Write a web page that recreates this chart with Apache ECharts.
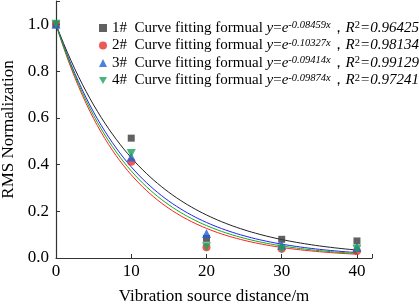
<!DOCTYPE html>
<html>
<head>
<meta charset="utf-8">
<script src="https://cdn.jsdelivr.net/npm/echarts@6/dist/echarts.min.js"></script>
<style>
  html, body { margin: 0; padding: 0; background: #fff; }
  #chart { width: 419px; height: 306px; }
</style>
</head>
<body>
<div id="chart"></div>
<script>
// distances (m)
var distances = [0, 10, 20, 30, 40];
var labels = ["1#", "2#", "3#", "4#"];
// measured RMS normalization per sensor
var rms1 = [1.0, 0.513, 0.084, 0.080, 0.073];
var rms2 = [1.0, 0.412, 0.046, 0.040, 0.030];
var rms3 = [1.0, 0.432, 0.105, 0.055, 0.045];
var rms4 = [1.0, 0.447, 0.048, 0.038, 0.037];
// fitting coefficients and R^2 from the legend
var coefs = [0.08459, 0.10327, 0.09414, 0.09874];
var r2 = ["0.96425", "0.98134", "0.99129", "0.97241"];

var colors = ["#3a3a3a", "#e8302c", "#1f5fd6", "#1aa35a"];
var lineColors = ["#222222", "#ff2020", "#2020ff", "#10b010"];
var symbols = ["rect", "circle", "triangle", "path://M0,0 L10,0 L5,9 Z"];
var sizes = [7, 8, 9, 9];

var font = "Liberation Serif";
var chart = echarts.init(document.getElementById("chart"));

function fitCurve(k) {
    var pts = [];
    for (var x = 0; x <= 40; x += 0.5) {
        pts.push([x, Math.exp(-k * x)]);
    }
    return pts;
}

var allRms = [rms1, rms2, rms3, rms4];
var series = [];
for (var i = 0; i < 4; i++) {
    series.push({
        name: "fit" + i,
        type: "line",
        data: fitCurve(coefs[i]),
        showSymbol: false,
        silent: true,
        z: 1,
        lineStyle: { color: lineColors[i], width: 1 }
    });
}
for (var j = 0; j < 4; j++) {
    series.push({
        name: labels[j],
        type: "scatter",
        symbol: symbols[j],
        symbolSize: sizes[j],
        z: 3,
        itemStyle: { color: colors[j] },
        data: distances.map(function(d, n) { return [d, allRms[j][n]]; })
    });
}

var option = {
    backgroundColor: "#fff",
    animation: false,
    grid: { left: 56, right: 47, top: 1, bottom: 48, outerBoundsMode: "none" },
    legend: {
        data: labels.map(function(l, i) { return { name: l, icon: symbols[i] }; }),
        orient: "vertical",
        left: 94,
        top: 15,
        itemWidth: 8,
        itemHeight: 8,
        itemGap: 2,
        formatter: function(name) {
            var i = labels.indexOf(name);
            return "{n|" + name + "  Curve fitting formual }{i|y}{n|=}{i|e}{s|-" + coefs[i].toFixed(5) + "x}{n|，}{i|R}{t|2}{i|=" + r2[i] + "}";
        },
        textStyle: {
            fontFamily: font,
            fontSize: 15,
            color: "#000",
            rich: {
                n: { fontFamily: font, fontSize: 15, color: "#000", lineHeight: 16 },
                i: { fontFamily: font, fontSize: 15, color: "#000", fontStyle: "italic", lineHeight: 16 },
                s: { fontFamily: font, fontSize: 10.5, color: "#000", fontStyle: "italic", verticalAlign: "top", padding: [0, 0, 5, 0] },
                t: { fontFamily: font, fontSize: 10.5, color: "#000", verticalAlign: "top", padding: [0, 0, 5, 0] }
            }
        }
    },
    xAxis: {
        type: "value",
        min: 0,
        max: 42,
        interval: 10,
        name: "Vibration source distance/m",
        nameLocation: "middle",
        nameGap: 30,
        nameTextStyle: { fontFamily: font, fontSize: 17, color: "#000" },
        splitLine: { show: false },
        axisLine: { lineStyle: { color: "#333", width: 1.2 } },
        axisTick: { inside: true, length: 4, lineStyle: { color: "#333" } },
        axisLabel: {
            fontFamily: font, fontSize: 17, color: "#000", margin: 5,
            formatter: function(v) { return v % 10 === 0 ? v : ""; }
        }
    },
    yAxis: {
        type: "value",
        min: 0,
        max: 1.1,
        interval: 0.2,
        name: "RMS Normalization",
        nameLocation: "middle",
        nameGap: 36,
        nameTextStyle: { fontFamily: font, fontSize: 17, color: "#000" },
        splitLine: { show: false },
        axisLine: { show: true, lineStyle: { color: "#333", width: 1.2 } },
        axisTick: { show: true, inside: true, length: 4, lineStyle: { color: "#333" } },
        axisLabel: {
            fontFamily: font, fontSize: 17, color: "#000", margin: 7,
            formatter: function(v) { return v > 1.05 ? "" : v.toFixed(1); }
        }
    },
    series: series
};
chart.setOption(option);
</script>
</body>
</html>
